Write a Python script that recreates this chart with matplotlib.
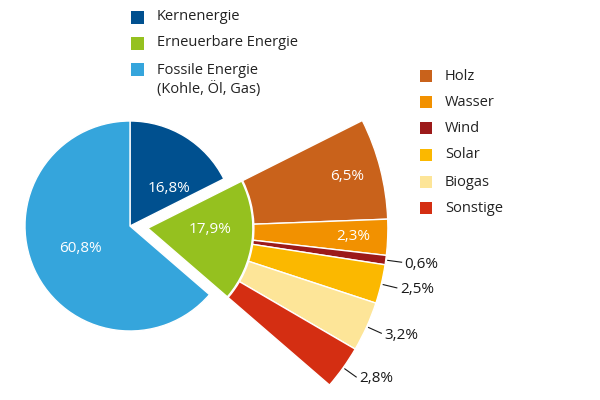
import numpy as np
import matplotlib.pyplot as plt
from matplotlib.patches import Rectangle

plt.rcParams['font.family'] = ['Open Sans', 'DejaVu Sans']

# Daten
main_labels = ['Kernenergie', 'Erneuerbare Energie', 'Fossile Energie', '(Kohle, Öl, Gas)']
main_values = [16.8, 17.9, 60.8]
main_colors = ['#00508f', '#95c11f', '#35a5dc']

sub_labels = ['Holz', 'Wasser', 'Wind', 'Solar', 'Biogas', 'Sonstige']
sub_values = [6.5, 2.3, 0.6, 2.5, 3.2, 2.8]
sub_colors = ['#c9621b', '#f29100', '#9c1a1a', '#fbb800', '#fde598', '#d42e12']


def fmt(v):
    return ('%.1f' % v).replace('.', ',') + '%'


fig = plt.figure(figsize=(6, 4), dpi=100)
ax = fig.add_axes([0, 0, 1, 1])

total = sum(main_values)
center = (130, 174)
R = 105
R_out = 240

# explode ist hier in Datenkoordinaten (Pixel)
wedges, _ = ax.pie(main_values, radius=R, center=center, startangle=90,
                   counterclock=False, colors=main_colors,
                   explode=[0, 18, 0],
                   wedgeprops=dict(edgecolor='white', linewidth=1))

green = wedges[1]
apex = green.center

sub_w, _ = ax.pie(np.array(sub_values) / total, normalize=False, radius=R_out,
                  center=apex, startangle=green.theta2, counterclock=False,
                  colors=sub_colors,
                  wedgeprops=dict(width=R_out - R - 1, edgecolor='white', linewidth=1))

# Beschriftung Hauptkreis
ax.text(169, 212, fmt(main_values[0]), color='white', fontsize=11, ha='center', va='center')
mid = np.radians((wedges[2].theta1 + wedges[2].theta2) / 2)
ax.text(center[0] + 55 * np.cos(mid), center[1] + 55 * np.sin(mid), fmt(main_values[2]),
        color='white', fontsize=11, ha='center', va='center')
mid = np.radians((green.theta1 + green.theta2) / 2)
ax.text(apex[0] + 63 * np.cos(mid), apex[1] + 6 + 63 * np.sin(mid), fmt(main_values[1]),
        color='white', fontsize=11, ha='center', va='center')

# Beschriftung Erneuerbare
for i, w in enumerate(sub_w):
    mid = np.radians((w.theta1 + w.theta2) / 2)
    c, s = np.cos(mid), np.sin(mid)
    if i < 2:
        ax.text(apex[0] + 206 * c, apex[1] + 206 * s, fmt(sub_values[i]),
                color='white', fontsize=11, ha='center', va='center')
    else:
        x0, y0 = apex[0] + (R_out + 2) * c, apex[1] + (R_out + 2) * s
        x1, y1 = apex[0] + (R_out + 16) * c, apex[1] + (R_out + 16) * s
        ax.plot([x0, x1], [y0, y1], color='#1a1a1a', lw=0.8)
        ax.text(x1 + 3, y1 - 2, fmt(sub_values[i]), color='#1a1a1a',
                fontsize=11, ha='left', va='center')

# Legenden
leg1_y = [383, 357, 331]
for y, col in zip(leg1_y, main_colors):
    ax.add_patch(Rectangle((131, y - 6.5), 13, 13, color=col, lw=0))
ax.text(157, 383, main_labels[0], fontsize=10.5, color='#222222', va='center')
ax.text(157, 357, main_labels[1], fontsize=10.5, color='#222222', va='center')
ax.text(157, 329, main_labels[2], fontsize=10.5, color='#222222', va='center')
ax.text(157, 311, main_labels[3], fontsize=10.5, color='#222222', va='center')

leg2_y = [324, 298, 272, 245, 218, 192]
for y, col, lab in zip(leg2_y, sub_colors, sub_labels):
    ax.add_patch(Rectangle((420, y - 6), 12, 12, color=col, lw=0))
    ax.text(445, y, lab, fontsize=10.5, color='#222222', va='center')

ax.set_xlim(0, 600)
ax.set_ylim(0, 400)
ax.set_aspect('equal')
ax.axis('off')

fig.savefig('out.png', dpi=100)
